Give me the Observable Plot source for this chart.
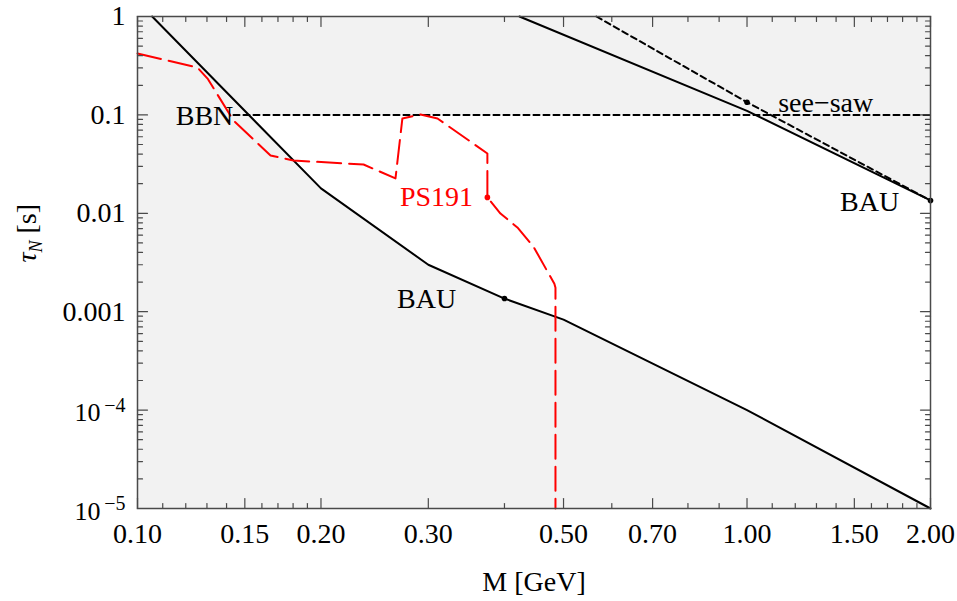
<!DOCTYPE html>
<html><head><meta charset="utf-8">
<script src="https://cdn.jsdelivr.net/npm/d3@7"></script>
<script src="https://cdn.jsdelivr.net/npm/@observablehq/plot@0.6"></script>
<style>body{margin:0;background:#fff} svg{display:block}</style>
</head><body><div id="chart"></div>
<script>
// ---- data ----
const lowerBAU_M   = [0.1057, 0.2, 0.3, 0.4, 0.5, 1.0, 2.0];
const lowerBAU_tau = [1, 0.0179, 0.0030, 0.00136, 0.00083, 1e-4, 1e-5];
const upperBAU_M   = [0.4233, 1.0, 2.0];
const upperBAU_tau = [1, 0.110, 0.0135];
const seesaw_M     = [0.566, 1.0, 2.0];
const seesaw_tau   = [1, 0.1346, 0.0135];
const bbn_M        = [0.1437, 2.0];
const bbn_tau      = [0.1, 0.1];
const ps191_M   = [0.100, 0.1254, 0.1303, 0.1437, 0.1653, 0.1803, 0.2349, 0.2476, 0.265, 0.272, 0.2913, 0.3106, 0.375, 0.375, 0.394, 0.420, 0.4468, 0.483, 0.485, 0.485];
const ps191_tau = [0.421, 0.303, 0.234, 0.0877, 0.0387, 0.0344, 0.0313, 0.0272, 0.0226, 0.0919, 0.101, 0.0919, 0.0405, 0.0145, 0.00995, 0.00718, 0.00453, 0.00192, 0.00175, 1e-5];
const dot_M     = [0.4, 1.0, 2.0, 0.375];
const dot_tau   = [0.00136, 0.1346, 0.0135, 0.0145];
const dot_color = ["black", "black", "black", "red"];
const label_text  = ["BBN", "PS191", "BAU", "BAU", "see\u2212saw"];
const label_M     = [0.1288, 0.3094, 0.298, 1.589, 1.346];
const label_tau   = [0.0970, 0.01458, 0.00135, 0.01297, 0.1305];
const label_color = ["black", "red", "black", "black", "black"];
const xTicks = [0.1, 0.15, 0.2, 0.3, 0.5, 0.7, 1.0, 1.5, 2.0];
const xTickLabels = ["0.10", "0.15", "0.20", "0.30", "0.50", "0.70", "1.00", "1.50", "2.00"];
const xMinor = [0.11, 0.12, 0.13, 0.14, 0.16, 0.17, 0.18, 0.19, 0.4, 0.6, 0.8, 0.9, 1.1, 1.2, 1.3, 1.4, 1.6, 1.7, 1.8, 1.9];
const yTicks = [1, 0.1, 0.01, 0.001, 1e-4, 1e-5];
const yTickLabels = ["1", "0.1", "0.01", "0.001", "10", "10"];
const yTickExp = ["", "", "", "", "\u22124", "\u22125"];
const yMinor = [];
for (const e of [-5, -4, -3, -2, -1]) for (let k = 2; k <= 9; k++) yMinor.push(k * Math.pow(10, e));

// ---- white (allowed) region, built from the curves ----
function crossing(Ms, Ts, level) {
  for (let i = 0; i < Ms.length - 1; i++) {
    const a = Math.log10(Ts[i]) - Math.log10(level), b = Math.log10(Ts[i+1]) - Math.log10(level);
    if (a * b <= 0 && a !== b) {
      const t = a / (a - b);
      return Math.pow(10, Math.log10(Ms[i]) + t * (Math.log10(Ms[i+1]) - Math.log10(Ms[i])));
    }
  }
  return null;
}
const cL = crossing(lowerBAU_M, lowerBAU_tau, bbn_tau[0]);
const cR = crossing(upperBAU_M, upperBAU_tau, bbn_tau[0]);
const poly = [{M: cL, tau: bbn_tau[0]}];
lowerBAU_M.forEach((m, i) => { if (m > cL) poly.push({M: m, tau: lowerBAU_tau[i]}); });
for (let i = upperBAU_M.length - 1; i >= 0; i--) if (upperBAU_M[i] > cR) poly.push({M: upperBAU_M[i], tau: upperBAU_tau[i]});
poly.push({M: cR, tau: bbn_tau[0]});

const FONT = "'Liberation Serif', 'Times New Roman', serif";
const FS = 28;
const AX = "#4a4a4a";
const tickShape = {draw(ctx, l) { ctx.moveTo(0, 0); ctx.lineTo(0, -l); }};
const tick = (data, ch, anchor, rot, len) => Plot.vector(data, {[ch]: d => d, frameAnchor: anchor, rotate: rot, length: len, anchor: "start", shape: tickShape, stroke: AX, strokeWidth: 1.2});

const svg = Plot.plot({
  width: 957, height: 601,
  marginLeft: 137, marginRight: 27, marginTop: 16, marginBottom: 93,
  x: {type: "log", domain: [0.1, 2], axis: null},
  y: {type: "log", domain: [1e-5, 1], axis: null},
  style: {fontFamily: FONT, background: "white", overflow: "visible"},
  marks: [
    Plot.frame({fill: "#f2f2f2", stroke: "none"}),
    Plot.line(poly, {x: "M", y: "tau", fill: "white", stroke: "none"}),
    Plot.line(bbn_M, {x: d => d, y: (d, i) => bbn_tau[i], stroke: "black", strokeWidth: 2, strokeDasharray: "6,4"}),
    Plot.line(seesaw_M, {x: d => d, y: (d, i) => seesaw_tau[i], stroke: "black", strokeWidth: 2, strokeDasharray: "6,4"}),
    Plot.line(upperBAU_M, {x: d => d, y: (d, i) => upperBAU_tau[i], stroke: "black", strokeWidth: 2}),
    Plot.line(lowerBAU_M, {x: d => d, y: (d, i) => lowerBAU_tau[i], stroke: "black", strokeWidth: 2}),
    Plot.line(ps191_M, {x: d => d, y: (d, i) => ps191_tau[i], stroke: "red", strokeWidth: 2, strokeDasharray: "24,8"}),
    Plot.dot(dot_M, {x: d => d, y: (d, i) => dot_tau[i], r: 2.8, fill: (d, i) => dot_color[i], stroke: "none"}),
    Plot.text(label_M, {x: d => d, y: (d, i) => label_tau[i], text: (d, i) => label_text[i], fill: (d, i) => label_color[i], textAnchor: "middle", fontSize: FS, fontFamily: FONT, lineAnchor: "middle"}),
    // ticks (inward, all four sides)
    tick(xTicks, "x", "bottom", 0, 10), tick(xMinor, "x", "bottom", 0, 5),
    tick(xTicks, "x", "top", 180, 10), tick(xMinor, "x", "top", 180, 5),
    tick(yTicks, "y", "left", 90, 10), tick(yMinor, "y", "left", 90, 5),
    tick(yTicks, "y", "right", -90, 10), tick(yMinor, "y", "right", -90, 5),
    Plot.frame({stroke: AX, strokeWidth: 1.5}),
    // tick labels
    Plot.text(xTicks, {x: d => d, frameAnchor: "bottom", dy: 26, text: (d, i) => xTickLabels[i], fontSize: FS, fontFamily: FONT, lineAnchor: "middle", fill: "black"}),
    Plot.text(yTicks.slice(0, 4), {y: d => d, frameAnchor: "left", dx: -12, text: (d, i) => yTickLabels[i], textAnchor: "end", fontSize: FS, fontFamily: FONT, lineAnchor: "middle", fill: "black"}),
    Plot.text(yTicks.slice(4), {y: d => d, frameAnchor: "left", dx: -37, dy: 3, text: (d, i) => yTickLabels[i + 4], textAnchor: "end", fontSize: 26, fontFamily: FONT, lineAnchor: "middle", fill: "black"}),
    Plot.text(yTicks.slice(4), {y: d => d, frameAnchor: "left", dx: -12, dy: -5, text: (d, i) => yTickExp[i + 4], textAnchor: "end", fontSize: 20, fontFamily: FONT, lineAnchor: "middle", fill: "black"}),
    // axis titles
    Plot.text(["M [GeV]"], {frameAnchor: "bottom", dy: 74, text: d => d, fontSize: FS, fontFamily: FONT, lineAnchor: "middle", fill: "black"}),
    Plot.text(["τN [s]"], {frameAnchor: "left", dx: -110, text: d => d, rotate: -90, fontSize: FS, fontFamily: FONT, lineAnchor: "middle", fill: "black"})
  ]
});

// subscript N on the y-axis title
svg.querySelectorAll("text").forEach(t => {
  if (t.textContent === "τN [s]") {
    t.innerHTML = '<tspan font-style="italic">τ</tspan><tspan font-style="italic" font-size="18" dy="6">N</tspan><tspan dy="-6"> [s]</tspan>';
  }
});
document.getElementById("chart").appendChild(svg);
</script>
</body></html>
